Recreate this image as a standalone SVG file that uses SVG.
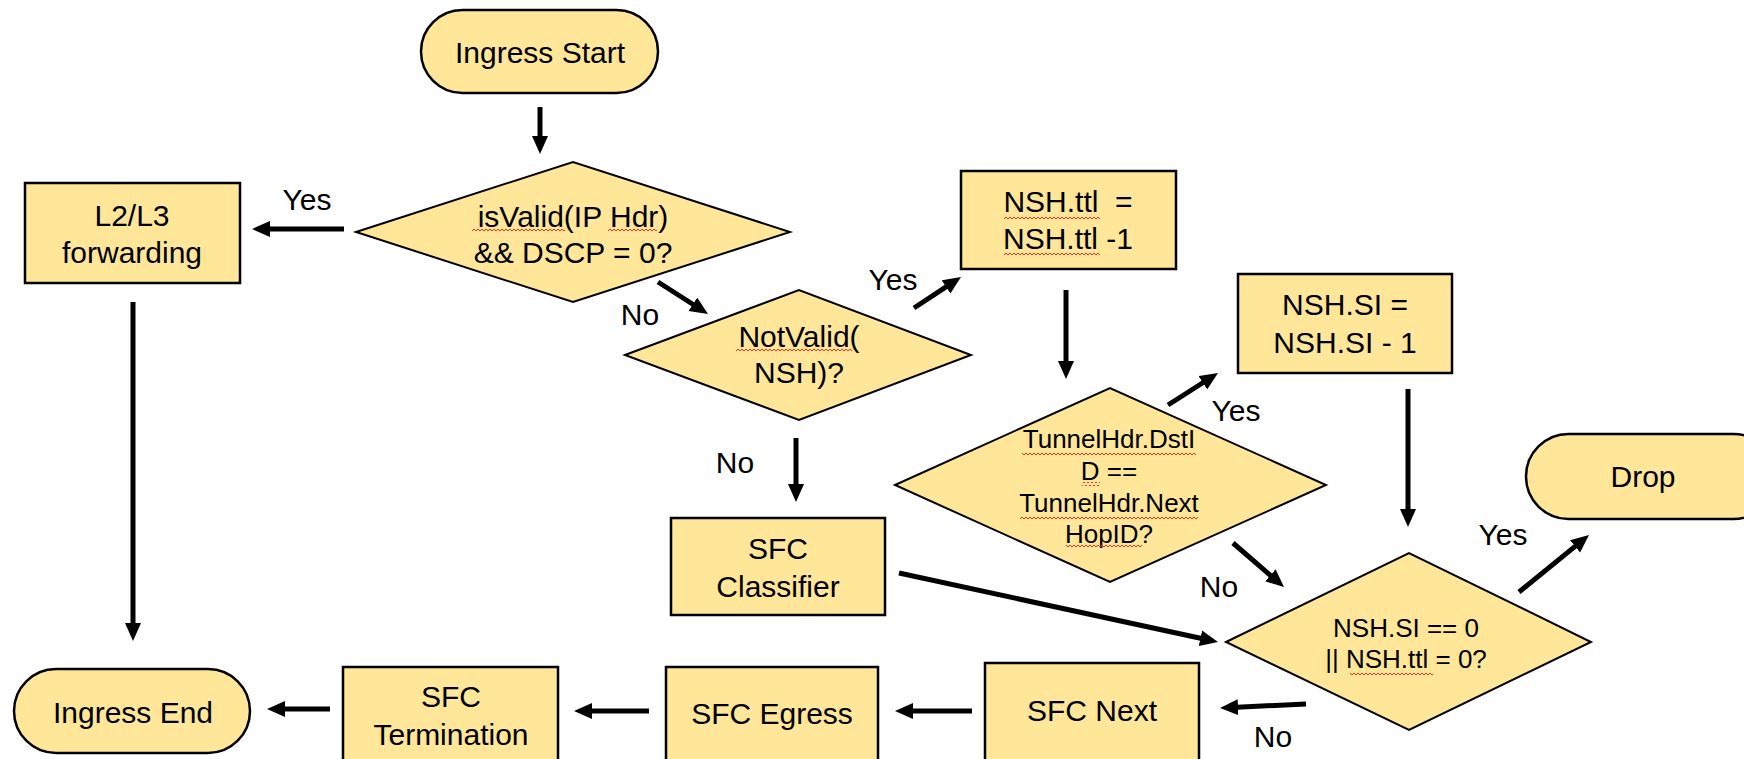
<svg xmlns="http://www.w3.org/2000/svg" width="1744" height="759" viewBox="0 0 1744 759">
<defs>
<marker id="ah" markerUnits="userSpaceOnUse" markerWidth="20" markerHeight="18" refX="6" refY="8" orient="auto">
<path d="M0,0 L18,8 L0,16 z" fill="#000"/>
</marker>
<pattern id="sq" patternUnits="userSpaceOnUse" width="4" height="4">
<path d="M0,3 L2,1 L4,3" fill="none" stroke="#e8312a" stroke-width="1"/>
</pattern>
<style>
.n{fill:#FFE699;stroke:#000;stroke-width:2.5}
.d{fill:#FFE699;stroke:#000;stroke-width:2}
.t{font-family:"Liberation Sans",Arial,sans-serif;font-size:30px;fill:#000;text-anchor:middle}
.s{font-size:26px}
.l{font-family:"Liberation Sans",Arial,sans-serif;font-size:30px;fill:#000}
.c path{fill:none;stroke:#000;stroke-width:5;marker-end:url(#ah)}
.w{fill:url(#sq)}
</style>
</defs>
<rect width="1744" height="759" fill="#fff"/>

<g id="ingress-start"><rect class="n" x="421" y="10" width="237" height="83" rx="41.5"/><text class="t" x="540" y="63">Ingress Start</text></g>

<g id="is-valid-ip"><polygon class="d" points="356,232 573,162 790,232 573,302"/><text class="t" x="573" y="227">isValid(IP Hdr)</text><text class="t" x="573" y="263">&amp;&amp; DSCP = 0?</text><rect class="w" x="472" y="229" width="93" height="4"/><rect class="w" x="608" y="229" width="49" height="4"/></g>

<g id="l2l3"><rect class="n" x="25" y="183" width="215" height="100"/><text class="t" x="132" y="226">L2/L3</text><text class="t" x="132" y="263">forwarding</text></g>

<g id="ingress-end"><rect class="n" x="14" y="669" width="236" height="84" rx="42"/><text class="t" x="133" y="723">Ingress End</text></g>

<g id="sfc-termination"><rect class="n" x="343" y="667" width="215" height="100"/><text class="t" x="451" y="707">SFC</text><text class="t" x="451" y="745">Termination</text></g>

<g id="sfc-egress"><rect class="n" x="666" y="667" width="212" height="100"/><text class="t" x="772" y="724">SFC Egress</text></g>

<g id="sfc-next"><rect class="n" x="985" y="663" width="214" height="104"/><text class="t" x="1092" y="721">SFC Next</text></g>

<g id="not-valid-nsh"><polygon class="d" points="625,355 799,290 971,355 799,420"/><text class="t" x="799" y="347">NotValid(</text><text class="t" x="799" y="383">NSH)?</text><rect class="w" x="736" y="348" width="116" height="4"/></g>

<g id="nsh-ttl"><rect class="n" x="961" y="171" width="215" height="98"/><text class="t" x="1068" y="212" xml:space="preserve">NSH.ttl  =</text><text class="t" x="1068" y="249">NSH.ttl -1</text><rect class="w" x="1004" y="215" width="96" height="4"/><rect class="w" x="1004" y="252" width="96" height="4"/></g>

<g id="sfc-classifier"><rect class="n" x="671" y="518" width="214" height="97"/><text class="t" x="778" y="559">SFC</text><text class="t" x="778" y="597">Classifier</text></g>

<g id="tunnel-check"><polygon class="d" points="895,485 1110,388 1326,485 1110,582"/><text class="t s" x="1109" y="448">TunnelHdr.DstI</text><text class="t s" x="1109" y="480">D ==</text><text class="t s" x="1109" y="512">TunnelHdr.Next</text><text class="t s" x="1109" y="543">HopID?</text><rect class="w" x="1022" y="451" width="174" height="4"/><rect class="w" x="1082" y="482" width="18" height="4"/><rect class="w" x="1020" y="515" width="178" height="4"/><rect class="w" x="1066" y="545" width="76" height="4"/></g>

<g id="nsh-si"><rect class="n" x="1238" y="274" width="214" height="99"/><text class="t" x="1345" y="315">NSH.SI =</text><text class="t" x="1345" y="353">NSH.SI - 1</text></g>

<g id="si-ttl-zero"><polygon class="d" points="1226,642 1409,553 1591,642 1409,730"/><text class="t s" x="1406" y="637">NSH.SI == 0</text><text class="t s" x="1406" y="668">|| NSH.ttl = 0?</text><rect class="w" x="1350" y="671" width="83" height="4"/></g>

<g id="drop"><rect class="n" x="1526" y="434" width="250" height="85" rx="42.5"/><text class="t" x="1643" y="487">Drop</text></g>

<g id="connectors" class="c">
<path d="M540,107 L540,142"/>
<path d="M344,229 L264,229"/>
<path d="M133,302 L133,629"/>
<path d="M330,709 L279,709"/>
<path d="M649,711 L586,711"/>
<path d="M972,711 L907,711"/>
<path d="M1306,704 L1232,707.4"/>
<path d="M658,282 L697.9,307.5"/>
<path d="M914,308 L951,283.6"/>
<path d="M1066,290 L1066,367"/>
<path d="M796,438 L796,490"/>
<path d="M1168,405 L1207.9,379.5"/>
<path d="M1408,389 L1408,515"/>
<path d="M1233,543 L1274.9,579.2"/>
<path d="M899,573 L1206.3,639.5"/>
<path d="M1519,592 L1579.7,542.6"/>
</g>

<g id="labels">
<text class="t" x="307" y="210">Yes</text>
<text class="t" x="640" y="325">No</text>
<text class="t" x="893" y="290">Yes</text>
<text class="t" x="735" y="473">No</text>
<text class="t" x="1236" y="421">Yes</text>
<text class="t" x="1219" y="597">No</text>
<text class="t" x="1503" y="545">Yes</text>
<text class="t" x="1273" y="747">No</text>
</g>
</svg>
